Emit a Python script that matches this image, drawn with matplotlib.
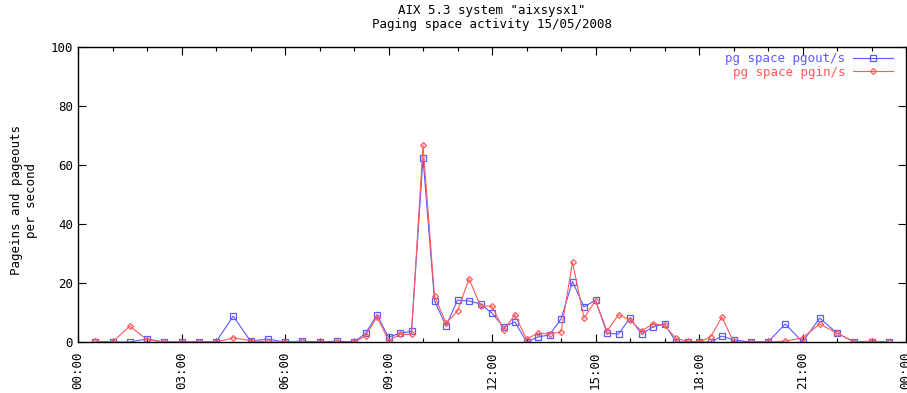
import numpy as np
import matplotlib.pyplot as plt

# sample times and paging rates (pages per second)
times = ["00:30", "01:00", "01:30", "02:00", "02:30", "03:00", "03:30", "04:00",
         "04:30", "05:00", "05:30", "06:00", "06:30", "07:00", "07:30", "08:00",
         "08:20", "08:40", "09:00", "09:20", "09:40", "10:00", "10:20", "10:40",
         "11:00", "11:20", "11:40", "12:00", "12:20", "12:40", "13:00", "13:20",
         "13:40", "14:00", "14:20", "14:40", "15:00", "15:20", "15:40", "16:00",
         "16:20", "16:40", "17:00", "17:20", "17:40", "18:00", "18:20", "18:40",
         "19:00", "19:30", "20:00", "20:30", "21:00", "21:30", "22:00", "22:30",
         "23:00", "23:30"]

pgout = [0, 0, 0, 1, 0, 0, 0, 0,
         8.8, 0.3, 1, 0, 0.3, 0, 0.3, 0,
         2.9, 9.2, 1.6, 3, 3.6, 62.4, 14, 5.4,
         14.2, 13.9, 12.9, 9.8, 5.1, 6.8, 0, 1.7,
         2.4, 7.8, 20.5, 11.9, 14.2, 3, 2.7, 8.1,
         2.7, 5.1, 6.2, 0, 0, 0, 0, 2,
         0.7, 0, 0, 6.1, 0, 8.1, 3, 0,
         0, 0]

pgin = [0.3, 0, 5.4, 0.8, 0, 0, 0, 0,
        1.4, 0.5, 0, 0, 0.2, 0, 0, 0,
        2, 8.6, 0.5, 2.6, 2.6, 66.8, 15.6, 6.4,
        10.5, 21.4, 12.2, 12.2, 4.1, 9.2, 1, 3,
        2.7, 3.4, 27.1, 8.1, 14, 3.7, 9.2, 7.5,
        3.7, 6.2, 5.6, 1.2, 0.3, 0, 1.7, 8.5,
        0, 0, 0, 0.3, 1.4, 6.1, 3, 0,
        0.3, 0]

xtick_labels = ["00:00", "03:00", "06:00", "09:00", "12:00", "15:00",
                "18:00", "21:00", "00:00"]

hours = np.array([int(t[:2]) + int(t[3:]) / 60 for t in times])

font = "DejaVu Sans Mono"
plt.rcParams["font.family"] = font

fig = plt.figure(figsize=(9.07, 3.93), dpi=100)
ax = fig.add_axes([78 / 907, 51 / 393, 828 / 907, 295 / 393])

blue = "#5a5aff"
red = "#ff5a5a"
ax.plot(hours, pgout, color=blue, lw=0.8, marker="s", ms=5, mfc="none",
        mec=blue, mew=0.9, label="pg space pgout/s")
ax.plot(hours, pgin, color=red, lw=0.8, marker="D", ms=3, mfc="none",
        mec=red, mew=0.9, label="pg space pgin/s")

ax.set_xlim(0, 24)
ax.set_ylim(0, 100)
ax.set_xticks(np.arange(0, 25, 3))
ax.set_xticklabels(xtick_labels, rotation=90, va="top", fontsize=9)
ax.set_xticks(np.arange(0, 25, 1), minor=True)
ax.set_yticks(np.arange(0, 101, 20))
ax.tick_params(axis="both", which="major", direction="in", length=6,
               top=True, right=True, labelsize=9, width=0.8)
ax.tick_params(axis="x", which="minor", direction="in", length=3,
               top=True, width=0.8)
ax.tick_params(axis="x", pad=7)
for s in ax.spines.values():
    s.set_linewidth(1.0)

ax.legend(loc="upper right", bbox_to_anchor=(0.99, 1.0), frameon=False,
          markerfirst=False, labelcolor="linecolor", fontsize=9,
          handlelength=3.2, borderaxespad=0, labelspacing=0.05,
          handletextpad=0.6)

fig.text(0.542, 0.955, 'AIX 5.3 system "aixsysx1"\nPaging space activity 15/05/2008',
         ha="center", va="center", fontsize=9, linespacing=1.15)
fig.text(24 / 907, 1 - 200 / 393, "Pageins and pageouts\nper second",
         rotation=90, ha="center", va="center", fontsize=9, linespacing=1.1)

fig.savefig("out.png", dpi=100)
